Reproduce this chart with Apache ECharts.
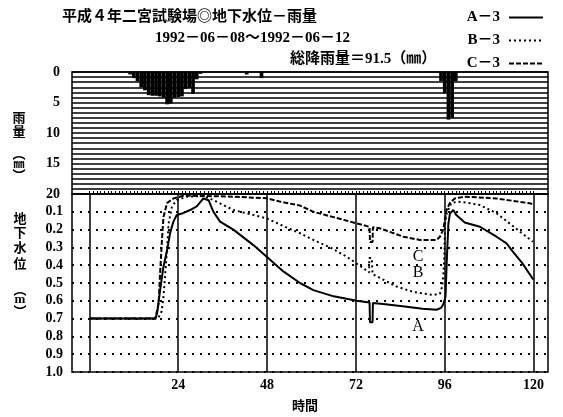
<!DOCTYPE html>
<html><head><meta charset="utf-8">
<script src="https://cdn.jsdelivr.net/npm/echarts@6/dist/echarts.min.js"></script>
<style>html,body{margin:0;padding:0;background:#fff}#c{width:563px;height:417px}</style>
</head><body><div id="c"></div>
<script>
// Rainfall (mm per hour)
const rainHours  = [11,12,13,14,15,16,17,18,19,20,21,22,23,24,25,26,27,28,29,30, 42.5,46.5, 95,96,97,98,99];
const rainValues = [0.4,1.0,1.5,2.5,3.0,3.8,3.9,3.9,4.0,4.2,5.3,5.2,4.2,4.1,4.0,2.8,2.6,3.6,1.2,0.3, 0.4,1.0, 1.5,3.5,7.8,7.5,1.5];

// Groundwater level (m), [hour, depth]
const seriesA = [[0,0.70],[17.8,0.70],[18.3,0.67],[19.1,0.54],[20.0,0.41],[21.0,0.315],[21.8,0.22],[22.7,0.155],[23.6,0.118],[25.0,0.11],[27.2,0.09],[29.0,0.07],[30.8,0.025],[32.2,0.035],[33.5,0.10],[35.3,0.155],[38.9,0.20],[44.3,0.287],[47.9,0.352],[52.4,0.435],[56.9,0.50],[60.5,0.54],[66,0.575],[72.2,0.60],[75.7,0.61],[75.8,0.72],[76.5,0.72],[76.6,0.612],[80,0.62],[85.7,0.633],[90,0.645],[93.8,0.65],[95.0,0.64],[95.6,0.62],[96.2,0.58],[96.6,0.35],[97.0,0.165],[97.4,0.11],[98.3,0.09],[99.2,0.12],[101.4,0.16],[105.5,0.184],[110,0.24],[112.7,0.277],[114.4,0.324],[117,0.39],[119.9,0.48]];
const seriesB = [[0,0.70],[18.5,0.70],[19.5,0.66],[20.0,0.58],[20.5,0.445],[21.0,0.30],[21.4,0.165],[22.3,0.07],[23.6,0.035],[26.3,0.015],[30.8,0.012],[33.5,0.034],[38.9,0.09],[44.3,0.118],[47.9,0.137],[52.4,0.18],[56.9,0.22],[60.5,0.258],[65,0.30],[69.5,0.352],[75.6,0.44],[75.6,0.36],[76.3,0.36],[76.5,0.45],[83,0.52],[87.5,0.55],[92.9,0.567],[94.7,0.56],[95.3,0.52],[95.6,0.465],[95.9,0.35],[96.1,0.165],[96.5,0.11],[97.8,0.05],[99.6,0.043],[102.3,0.05],[105.5,0.062],[110,0.108],[114.4,0.18],[119.8,0.268]];
const seriesC = [[0,0.70],[17.8,0.70],[18.7,0.615],[19.1,0.445],[19.6,0.26],[20.0,0.13],[21.0,0.05],[22.7,0.025],[25.4,0.01],[30.8,0.011],[38.9,0.015],[47.9,0.024],[52,0.045],[56.9,0.065],[60.5,0.10],[66,0.13],[72.2,0.165],[75.7,0.185],[75.8,0.27],[76.5,0.27],[76.6,0.187],[78.5,0.193],[84.8,0.24],[89.3,0.258],[93.8,0.258],[94.7,0.24],[95.6,0.2],[96.5,0.09],[97.4,0.05],[98.7,0.025],[101.4,0.015],[110,0.025],[119,0.052],[120,0.06]];

// Axis ticks / labels
const xLabels = [24,48,72,96,120];
const vLines = [0,24,48,72,96,120];
const hourTicks = [];
for (let h = 0; h <= 120; h++) hourTicks.push(h);

const numFont = "'Liberation Serif','Noto Sans CJK JP',serif";
const jpFont = "'Noto Sans CJK JP',sans-serif";

const chart = echarts.init(document.getElementById('c'));
const txt = (s, x, y, font) => ({type:'text', x:x, y:y, style:{text:s, font:font, fill:'#000', align:'center', verticalAlign:'middle'}});
const jb13 = 'bold 13px ' + jpFont;

chart.setOption({
  animation:false,
  backgroundColor:'#fff',
  legend:{
    data:['A－3','B－3','C－3'], orient:'vertical', right:14, top:5, align:'right',
    itemWidth:34, itemHeight:14, itemGap:8,
    itemStyle:{opacity:0},
    textStyle:{fontFamily:numFont, fontWeight:'bold', fontSize:15, color:'#000', padding:[0,4,0,0]}
  },
  graphic:[
    {type:'text', left:62, top:8, style:{text:'平成４年二宮試験場◎地下水位－雨量', font:'bold 15px ' + jpFont, fill:'#000'}},
    {type:'text', left:155, top:31, style:{text:'1992－06－08～1992－06－12', font:'bold 15px ' + numFont, fill:'#000'}},
    {type:'text', left:290, top:52, style:{text:'総降雨量＝91.5（㎜）', font:'bold 15px ' + numFont, fill:'#000'}},
    {type:'group', children:[
      txt('雨', 19, 117, jb13), txt('量', 19, 131, jb13), txt('︵', 19, 153, jb13),
      txt('㎜', 19, 164, 'bold 11px ' + jpFont), txt('︶', 19, 175, jb13),
      txt('地', 20, 218, jb13), txt('下', 20, 232, jb13), txt('水', 20, 247, jb13), txt('位', 20, 263, jb13),
      txt('︵', 20, 289, jb13), txt('m', 20, 300, 'bold 13px ' + numFont), txt('︶', 20, 311, jb13),
      txt('時間', 305, 405, jb13),
      txt('C', 418, 257, '16px ' + numFont), txt('B', 418, 273, '16px ' + numFont), txt('A', 418, 327, '16px ' + numFont)
    ]}
  ],
  grid:[
    {left:72, top:72, width:476, height:122, show:true, borderColor:'#000', borderWidth:1.5, backgroundColor:'#fff'},
    {left:72, top:194, width:476, height:178, show:true, borderColor:'#000', borderWidth:1.5, backgroundColor:'transparent'}
  ],
  xAxis:[
    {gridIndex:0, type:'value', min:-4.7, max:123.9, axisLabel:{show:false}, axisTick:{show:false}, axisLine:{show:false}, splitLine:{show:false}},
    {gridIndex:1, type:'value', min:-4.7, max:123.9, axisLine:{show:false},
      axisTick:{show:true, inside:true, length:3, customValues:hourTicks, lineStyle:{color:'#000', width:1}},
      axisLabel:{customValues:xLabels, margin:6, color:'#000', fontFamily:numFont, fontWeight:'bold', fontSize:14},
      splitLine:{show:false}}
  ],
  yAxis:[
    {gridIndex:0, type:'value', inverse:true, min:0, max:20, interval:5,
      axisLine:{show:false}, axisTick:{show:false},
      axisLabel:{margin:12, color:'#000', fontFamily:numFont, fontWeight:'bold', fontSize:14},
      splitLine:{show:true, lineStyle:{color:'#000', width:1.5}},
      minorTick:{show:false, splitNumber:6},
      minorSplitLine:{show:true, lineStyle:{color:'#000', width:1.5}}},
    {gridIndex:1, type:'value', inverse:true, min:0, max:1, interval:0.1,
      axisLine:{show:false}, axisTick:{show:false},
      axisLabel:{margin:9, color:'#000', fontFamily:numFont, fontWeight:'bold', fontSize:14,
        formatter:v => v < 0.05 ? '' : v.toFixed(1)},
      splitLine:{show:true, lineStyle:{color:'#000', width:2, type:[2,6]}}}
  ],
  series:[
    {type:'bar', name:'rain', xAxisIndex:0, yAxisIndex:0, barWidth:3.7,
      data:rainHours.map((h,i)=>[h, rainValues[i]]), itemStyle:{color:'#000'}},
    {type:'line', name:'A－3', xAxisIndex:1, yAxisIndex:1, data:seriesA, symbol:'none',
      lineStyle:{color:'#000', width:2, type:'solid'}, itemStyle:{color:'#000'},
      markLine:{silent:true, symbol:'none', label:{show:false},
        lineStyle:{color:'#000', width:1.5, type:'solid'},
        data:vLines.map(v=>({xAxis:v}))}},
    {type:'line', name:'B－3', xAxisIndex:1, yAxisIndex:1, data:seriesB, symbol:'none',
      lineStyle:{color:'#000', width:2, type:[2,3]}, itemStyle:{color:'#000'}},
    {type:'line', name:'C－3', xAxisIndex:1, yAxisIndex:1, data:seriesC, symbol:'none',
      lineStyle:{color:'#000', width:2, type:[5,2]}, itemStyle:{color:'#000'}}
  ]
});
</script></body></html>
